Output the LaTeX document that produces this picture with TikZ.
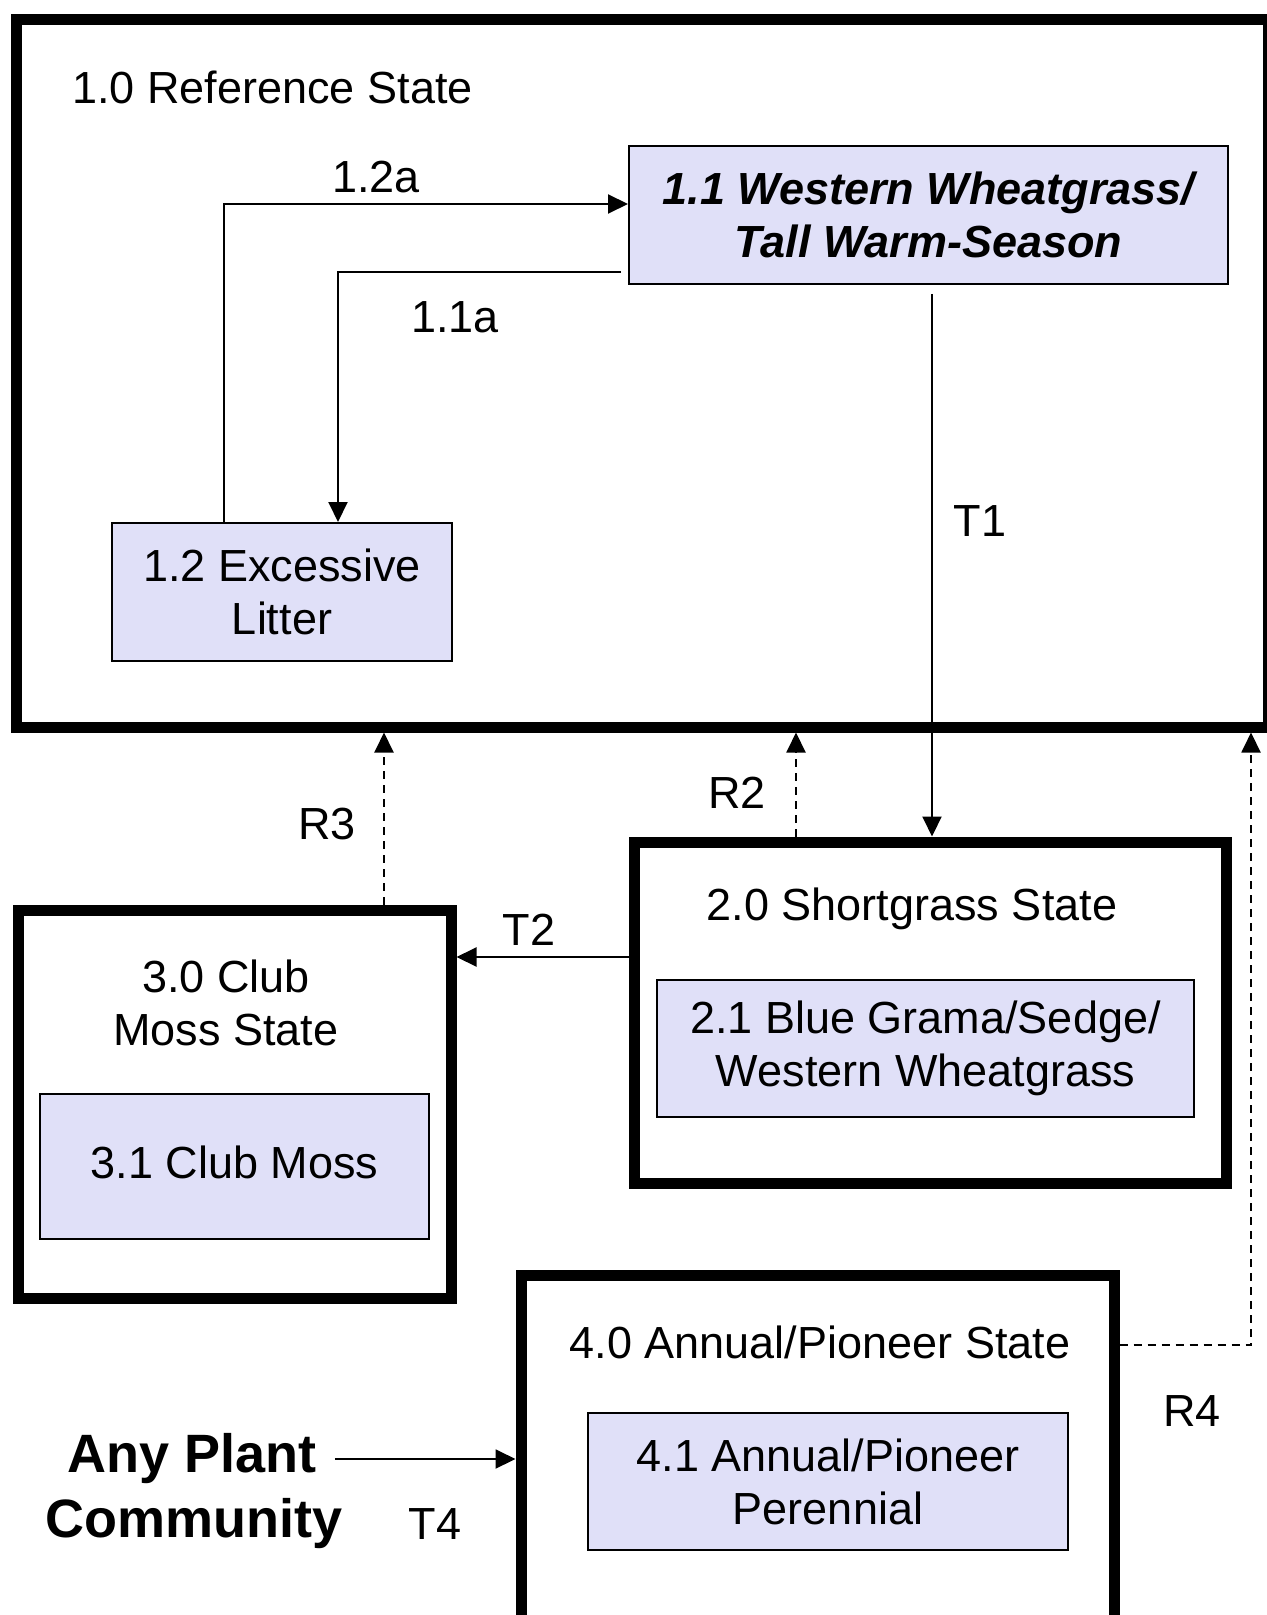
\documentclass[tikz,border=0pt]{standalone}
\usepackage{fontspec}
\setmainfont{Liberation Sans}
\usetikzlibrary{arrows.meta}
\definecolor{lav}{RGB}{224,224,248}

\begin{document}
\begin{tikzpicture}[x=0.5pt, y=-0.5pt,
 state/.style={rectangle, draw, line width=5.5pt, inner sep=0pt},
 box/.style={rectangle, draw, line width=1pt, fill=lav, align=center, inner sep=0pt, font=\fontsize{22.5}{26.5}\selectfont},
 lab/.style={inner sep=0pt, align=center, font=\fontsize{22.5}{26.5}\selectfont},
 arr/.style={-{Triangle[length=10pt,width=9.5pt]}, line width=1pt},
 darr/.style={-{Triangle[length=10pt,width=9.5pt]}, line width=1pt, dash pattern=on 4pt off 3pt},
]
\useasboundingbox (0,0) rectangle (1267,1615);
% states
\node[state, minimum width=626pt, minimum height=353.5pt] (ref) at (642,373.5) {};
\node[state, minimum width=296pt, minimum height=170.5pt] (st2) at (930,1012.5) {};
\node[state, minimum width=216.5pt, minimum height=194pt] (st3) at (234.5,1104) {};
\node[state, minimum width=296.5pt, minimum height=187.5pt] (st4) at (817.5,1462.5) {};
\node[lab, anchor=west] (lab1) at (72,87) {1.0 Reference State};
\node[lab] (lab2) at (912,909) {2.0 Shortgrass State};
\node[lab] (lab3) at (226,1003) {3.0 Club\\Moss State};
\node[lab] (lab4) at (820,1342) {4.0 Annual/Pioneer State};
% communities
\node[box, minimum width=299.5pt, minimum height=69pt] (box11) at (928.5,215)
 {\bfseries\itshape 1.1 Western Wheatgrass/\\\bfseries\itshape Tall Warm-Season};
\node[box, minimum width=170pt, minimum height=69pt] (box12) at (282,592) {1.2 Excessive\\Litter};
\node[box, minimum width=268.5pt, minimum height=68.5pt] (box21) at (925.5,1048.5) {2.1 Blue Grama/Sedge/\\Western Wheatgrass};
\node[box, minimum width=194.5pt, minimum height=72.5pt] (box31) at (234.5,1166.5) {\raisebox{4.5pt}{3.1 Club Moss}};
\node[box, minimum width=240pt, minimum height=68.5pt] (box41) at (828,1481.5) {4.1 Annual/Pioneer\\Perennial};
\node[lab, font=\fontsize{27}{31}\selectfont\bfseries] (anyplant) at (192,1459) {Any Plant};
\node[lab, font=\fontsize{27}{31}\selectfont\bfseries] (community) at (194,1524) {Community};
% pathways
\coordinate (c12a) at (224,204);
\coordinate (c11a) at (338,272);
\coordinate (ct1) at (932,0);
\coordinate (cr2) at (796,0);
\coordinate (cr3) at (384,0);
\coordinate (ct2) at (0,957);
\coordinate (cr4) at (1251,1345);
\draw[arr] (c12a |- box12.north) -- (c12a) -- (c12a -| box11.west);
\draw[arr, shorten <=3.5pt] (c11a -| box11.west) -- (c11a) -- (c11a |- box12.north);
\draw[arr, shorten <=4.5pt] (ct1 |- box11.south) -- (ct1 |- st2.north);
\draw[darr] (cr2 |- st2.north) -- (cr2 |- ref.south);
\draw[darr] (cr3 |- st3.north) -- (cr3 |- ref.south);
\draw[arr] (ct2 -| st2.west) -- (ct2 -| st3.east);
\draw[darr] (cr4 -| st4.east) -- (cr4) -- (cr4 |- ref.south);
\draw[arr, shorten <=9pt] (anyplant.east) -- (anyplant -| st4.west);
\node[lab] (l12a) at (376,177) {1.2a};
\node[lab] (l11a) at (455,317) {1.1a};
\node[lab] (lt1) at (980,521) {T1};
\node[lab] (lr2) at (737,793) {R2};
\node[lab] (lr3) at (327,824) {R3};
\node[lab] (lt2) at (529,930) {T2};
\node[lab] (lr4) at (1192,1411) {R4};
\node[lab] (lt4) at (435,1524) {T4};
\end{tikzpicture}
\end{document}
